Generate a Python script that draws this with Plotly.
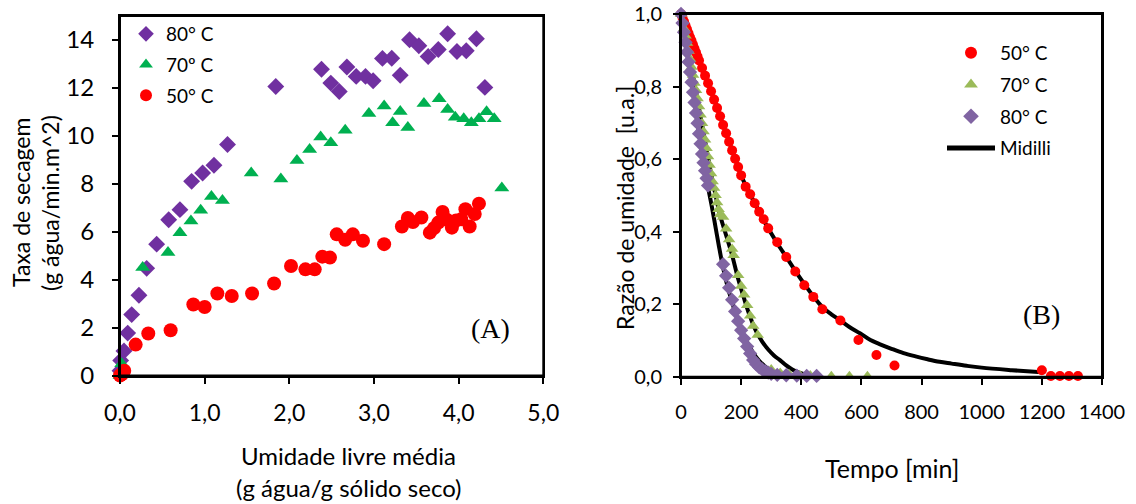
import plotly.graph_objects as go

# ---------------- Panel A data ----------------
x80 = [0.0, 0.008, 0.047, 0.091, 0.138, 0.224, 0.315, 0.433, 0.575, 0.708, 0.846, 0.976, 1.11, 1.27,
       1.84, 2.38, 2.49, 2.59, 2.68, 2.79, 2.90, 2.99, 3.10, 3.21, 3.31, 3.42, 3.53, 3.64, 3.76, 3.87,
       3.98, 4.09, 4.21, 4.31]
y80 = [0.2, 0.63, 1.02, 1.77, 2.54, 3.35, 4.47, 5.48, 6.5, 6.92, 8.10, 8.45, 8.77, 9.64,
       12.06, 12.78, 12.2, 11.85, 12.87, 12.48, 12.48, 12.3, 13.23, 13.24, 12.53, 14.01, 13.76, 13.31, 13.6, 14.26,
       13.52, 13.55, 14.05, 12.02]

x70 = [0.0, 0.02, 0.268, 0.567, 0.708, 0.838, 0.953, 1.08, 1.21, 1.55, 1.90, 2.09, 2.24, 2.37, 2.49,
       2.66, 2.94, 3.12, 3.22, 3.31, 3.40, 3.59, 3.77, 3.87, 3.96, 4.06, 4.15, 4.24, 4.33, 4.42, 4.51]
y70 = [0.0, 0.49, 4.51, 5.13, 5.96, 6.45, 6.89, 7.47, 7.3, 8.45, 8.2, 8.97, 9.43, 9.95, 9.71,
       10.23, 10.93, 11.24, 10.55, 11.02, 10.35, 11.35, 11.55, 11.1, 10.78, 10.71, 10.55, 10.71, 11.0, 10.71, 7.82]

x50 = [0.0, 0.02, 0.04, 0.05, 0.185, 0.334, 0.598, 0.866, 1.0, 1.15, 1.32, 1.56, 1.82, 2.02, 2.19,
       2.30, 2.39, 2.48, 2.56, 2.66, 2.75, 2.87, 3.12, 3.33, 3.40, 3.46, 3.56, 3.66, 3.71, 3.76,
       3.81, 3.86, 3.92, 3.97, 4.03, 4.08, 4.13, 4.19, 4.24]
y50 = [0.0, 0.05, 0.12, 0.2, 1.29, 1.75, 1.89, 2.96, 2.86, 3.42, 3.32, 3.42, 3.84, 4.57, 4.43,
       4.43, 4.96, 4.92, 5.89, 5.66, 5.89, 5.62, 5.48, 6.22, 6.57, 6.40, 6.59, 5.96, 6.15, 6.38,
       6.82, 6.5, 6.17, 6.47, 6.52, 6.94, 6.22, 6.74, 7.17]

# ---------------- Panel B data ----------------
t50 = [0, 5, 10, 15, 20, 25, 30, 35, 40, 45, 50, 55, 60, 70, 80, 90, 100, 110, 120, 130, 140, 150,
       160, 170, 180, 190, 200, 215, 230, 245, 260, 275, 290, 320, 350, 380, 410, 440, 470, 530,
       590, 650, 710, 1200, 1230, 1260, 1290, 1320]
mr50 = [1.0, 0.99, 0.979, 0.968, 0.958, 0.947, 0.936, 0.926, 0.915, 0.904, 0.894, 0.883, 0.872,
        0.851, 0.830, 0.809, 0.787, 0.764, 0.741, 0.718, 0.694, 0.671, 0.648, 0.624, 0.601, 0.578,
        0.555, 0.524, 0.503, 0.478, 0.455, 0.434, 0.409, 0.371, 0.330, 0.290, 0.252, 0.220, 0.186,
        0.155, 0.101, 0.060, 0.031, 0.018, 0.002, 0.002, 0.002, 0.002]

t70 = [0, 5, 10, 15, 20, 25, 30, 35, 40, 45, 50, 55, 60, 65, 70, 75, 80, 85, 90, 95, 100, 105,
       110, 115, 120, 125, 130, 140, 150, 160, 170, 175, 190, 200, 210, 220, 230, 240, 255,
       300, 330, 360, 395, 430, 500, 560, 620]
mr70 = [1.0, 0.98, 0.96, 0.94, 0.92, 0.898, 0.876, 0.854, 0.832, 0.81, 0.79, 0.767, 0.745, 0.722,
        0.699, 0.676, 0.653, 0.63, 0.607, 0.584, 0.56, 0.538, 0.52, 0.50, 0.48, 0.462, 0.447,
        0.44, 0.408, 0.378, 0.352, 0.335, 0.28, 0.25, 0.226, 0.197, 0.168, 0.14, 0.115,
        0.02, 0.01, 0.006, 0.004, 0.003, 0.001, 0.001, 0.001]

t80 = [0, 5, 10, 15, 20, 25, 30, 35, 40, 45, 50, 55, 60, 65, 70, 75, 80, 85, 90,
       140, 150, 160, 170, 180, 190, 200, 210, 220, 230, 240, 250, 260, 270, 280, 290, 300,
       320, 350, 385, 418, 451]
mr80 = [1.0, 0.975, 0.95, 0.922, 0.895, 0.868, 0.84, 0.812, 0.784, 0.756, 0.727, 0.699, 0.67,
        0.642, 0.614, 0.59, 0.568, 0.547, 0.527,
        0.31, 0.278, 0.245, 0.212, 0.18, 0.153, 0.128, 0.105, 0.083, 0.064, 0.046, 0.034,
        0.026, 0.02, 0.015, 0.011, 0.008, 0.005, 0.004, 0.003, 0.002, 0.002]

# Midilli fitted curves
tm50 = [0, 20, 40, 60, 80, 100, 120, 140, 160, 180, 200, 230, 260, 290, 320, 350, 380, 410, 440,
        470, 500, 530, 560, 595, 630, 660, 700, 740, 780, 820, 860, 900, 950, 1000, 1100, 1200]
mm50 = [1.0, 0.958, 0.915, 0.872, 0.830, 0.787, 0.741, 0.694, 0.648, 0.601, 0.555, 0.503, 0.455,
        0.409, 0.368, 0.330, 0.292, 0.256, 0.222, 0.192, 0.172, 0.155, 0.137, 0.12, 0.101, 0.09,
        0.077, 0.065, 0.056, 0.048, 0.041, 0.036, 0.03, 0.025, 0.018, 0.012]

tm70 = [0, 20, 40, 60, 80, 100, 115, 130, 150, 170, 190, 210, 230, 250, 270, 290, 310, 330,
        350, 370, 390, 410, 440]
mm70 = [1.0, 0.915, 0.83, 0.74, 0.65, 0.56, 0.5, 0.445, 0.39, 0.335, 0.27, 0.215, 0.165, 0.125,
        0.097, 0.075, 0.058, 0.045, 0.031, 0.02, 0.012, 0.007, 0.002]

tm80 = [0, 20, 40, 60, 80, 90, 100, 110, 125, 140, 155, 170, 185, 200, 220, 240, 260, 280,
        300, 320, 340, 360, 380]
mm80 = [1.0, 0.895, 0.784, 0.67, 0.565, 0.522, 0.48, 0.435, 0.365, 0.3, 0.248, 0.205, 0.165,
        0.13, 0.095, 0.066, 0.044, 0.028, 0.016, 0.009, 0.004, 0.002, 0.0]

xticks_a = [0, 1, 2, 3, 4, 5]
xticktext_a = ["0,0", "1,0", "2,0", "3,0", "4,0", "5,0"]
yticks_a = [0, 2, 4, 6, 8, 10, 12, 14]
xticks_b = [0, 200, 400, 600, 800, 1000, 1200, 1400]
yticks_b = [0, 0.2, 0.4, 0.6, 0.8, 1.0]
yticktext_b = ["0,0", "0,2", "0,4", "0,6", "0,8", "1,0"]

FONT = "Lato, 'Open Sans', sans-serif"
W, H = 1136, 504


def px(x):                   # page pixel -> paper fraction (x)
    return x / W


def py(y):                   # page pixel -> paper fraction (y)
    return 1 - y / H


fig = go.Figure()

# ---- Panel A traces ----
fig.add_trace(go.Scatter(x=x80, y=y80, mode="markers", name="80° C", legend="legend",
                         legendgroup="a80",
                         marker=dict(symbol="diamond", size=13, color="#7030A0"),
                         cliponaxis=False, xaxis="x", yaxis="y"))
fig.add_trace(go.Scatter(x=x70, y=y70, mode="markers", name="70º C", legend="legend",
                         legendgroup="a70",
                         marker=dict(symbol="triangle-up", size=13, color="#00B050"),
                         cliponaxis=False, xaxis="x", yaxis="y"))
fig.add_trace(go.Scatter(x=x50, y=y50, mode="markers", name="50° C", legend="legend",
                         legendgroup="a50",
                         marker=dict(symbol="circle", size=14, color="#FF0000"),
                         cliponaxis=False, xaxis="x", yaxis="y"))

# ---- Panel B traces ----
line_style = dict(color="black", width=4)
fig.add_trace(go.Scatter(x=tm50, y=mm50, mode="lines", name="Midilli", legend="legend2",
                         legendgroup="m", legendrank=4, line=dict(line_style, shape="spline"),
                         xaxis="x2", yaxis="y2"))
fig.add_trace(go.Scatter(x=tm70, y=mm70, mode="lines", name="Midilli", legend="legend2",
                         legendgroup="m", showlegend=False, line=dict(line_style, shape="spline"),
                         xaxis="x2", yaxis="y2"))
fig.add_trace(go.Scatter(x=tm80, y=mm80, mode="lines", name="Midilli", legend="legend2",
                         legendgroup="m", showlegend=False, line=dict(line_style, shape="spline"),
                         xaxis="x2", yaxis="y2"))
fig.add_trace(go.Scatter(x=t50, y=mr50, mode="markers", name="50° C", legend="legend2",
                         legendgroup="b50", legendrank=1,
                         marker=dict(symbol="circle", size=10, color="#FF0000"),
                         cliponaxis=False, xaxis="x2", yaxis="y2"))
fig.add_trace(go.Scatter(x=t70, y=mr70, mode="markers", name="70° C", legend="legend2",
                         legendgroup="b70", legendrank=2,
                         marker=dict(symbol="triangle-up", size=11, color="#9BBB59"),
                         cliponaxis=False, xaxis="x2", yaxis="y2"))
fig.add_trace(go.Scatter(x=t80, y=mr80, mode="markers", name="80° C", legend="legend2",
                         legendgroup="b80", legendrank=3,
                         marker=dict(symbol="diamond", size=11, color="#8064A2"),
                         cliponaxis=False, xaxis="x2", yaxis="y2"))


def axis_common(size):
    return dict(showline=True, linecolor="black", linewidth=2, mirror=True,
                ticks="outside", ticklen=6, tickwidth=1.5, tickcolor="black",
                showgrid=False, zeroline=False, automargin=False,
                ticklabeloverflow="allow",
                tickfont=dict(family=FONT, size=size, color="black"))


fig.update_layout(
    width=W, height=H,
    margin=dict(l=0, r=0, t=0, b=0, autoexpand=False),
    paper_bgcolor="white", plot_bgcolor="white",
    font=dict(family=FONT, color="black"),
    xaxis=dict(axis_common(23), domain=[px(120), px(543.3)], range=[0, 5],
               tickvals=xticks_a, ticktext=xticktext_a, anchor="y", ticklabelstandoff=10),
    yaxis=dict(axis_common(24), domain=[py(375.5), py(16)], range=[0, 15],
               tickvals=yticks_a, anchor="x", ticklabelstandoff=13),
    xaxis2=dict(axis_common(20), domain=[px(681), px(1102)], range=[0, 1400],
                tickvals=xticks_b, anchor="y2", ticklabelstandoff=10),
    yaxis2=dict(axis_common(20), domain=[py(376.7), py(14)], range=[0, 1.0],
                tickvals=yticks_b, ticktext=yticktext_b, anchor="x2", ticklabelstandoff=7),
    legend=dict(x=px(126), y=py(15), xanchor="left", yanchor="top",
                bgcolor="rgba(0,0,0,0)", font=dict(family=FONT, size=19, color="black"),
                traceorder="grouped", tracegroupgap=3, itemsizing="constant", itemwidth=30),
    legend2=dict(x=px(942), y=py(34), xanchor="left", yanchor="top",
                 bgcolor="rgba(0,0,0,0)", font=dict(family=FONT, size=19, color="black"),
                 traceorder="grouped", tracegroupgap=4, itemsizing="constant", itemwidth=48),
    showlegend=True,
)

# explicit frames around both plot areas
for xr, yr in (("x domain", "y domain"), ("x2 domain", "y2 domain")):
    fig.add_shape(type="rect", xref=xr, yref=yr, x0=0, x1=1, y0=0, y1=1,
                  line=dict(color="black", width=2), fillcolor="rgba(0,0,0,0)", layer="above")

annos = [
    dict(text="Taxa de secagem", x=21, y=203, textangle=-90, size=23),
    dict(text="(g água/min.m^2)", x=50, y=203, textangle=-90, size=23),
    dict(text="Umidade livre média", x=348, y=455, textangle=0, size=24),
    dict(text="(g água/g sólido seco)", x=348, y=487, textangle=0, size=24),
    dict(text="Tempo [min]", x=892, y=468, textangle=0, size=25),
    dict(text="Razão de umidade  [u.a.]", x=625, y=208, textangle=-90, size=23),
]
for a in annos:
    fig.add_annotation(text=a["text"], x=px(a["x"]), y=py(a["y"]), xref="paper", yref="paper",
                       textangle=a["textangle"], showarrow=False, xanchor="center", yanchor="middle",
                       font=dict(family=FONT, size=a["size"], color="black"))

fig.add_annotation(text="(A)", x=px(490), y=py(328), xref="paper", yref="paper",
                   showarrow=False, xanchor="center", yanchor="middle",
                   font=dict(family="Liberation Serif, serif", size=28, color="black"))
fig.add_annotation(text="(B)", x=px(1041), y=py(314), xref="paper", yref="paper",
                   showarrow=False, xanchor="center", yanchor="middle",
                   font=dict(family="Liberation Serif, serif", size=28, color="black"))

fig.write_html("out.html",
               config={"displayModeBar": False},
               post_script="document.body.style.margin='0';document.body.style.overflow='hidden';")
